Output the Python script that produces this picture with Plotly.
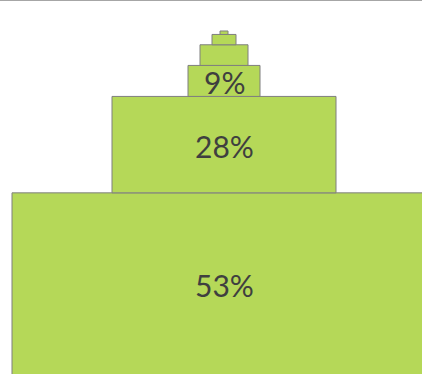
import plotly.graph_objects as go

# Share of each tier, bottom to top
tiers = ["Tier 1", "Tier 2", "Tier 3", "Tier 4", "Tier 5", "Tier 6"]
shares = [53, 28, 9, 6, 3, 1]
labeled = [True, True, True, False, False, False]

# Each block sits on top of the previous one
bases = []
total = 0
for v in shares:
    bases.append(total)
    total += v

fig = go.Figure(
    go.Bar(
        x=[0] * len(shares),
        y=shares,
        base=bases,
        width=shares,
        hovertext=tiers,
        marker=dict(color="#B5D858", line=dict(color="#7F7F7F", width=1)),
    )
)

for v, b, show in zip(shares, bases, labeled):
    if show:
        fig.add_annotation(
            x=0, y=b + v / 2, text=f"{v}%", showarrow=False,
            font=dict(family="Lato", size=30, color="#3F3F3F"),
            yanchor="middle", yshift=-1,
        )

# thin rule along the top edge
fig.add_shape(type="line", xref="paper", yref="paper", x0=0, x1=1, y0=1, y1=1,
              line=dict(color="#A6A6A6", width=2))

fig.update_layout(
    width=422, height=374,
    margin=dict(l=0, r=0, t=0, b=0),
    paper_bgcolor="white", plot_bgcolor="white",
    barmode="overlay", showlegend=False,
    xaxis=dict(range=[-28, 24.75], visible=False, fixedrange=True),
    yaxis=dict(range=[0.4, 109], visible=False, fixedrange=True),
)

fig.write_html("out.html")
